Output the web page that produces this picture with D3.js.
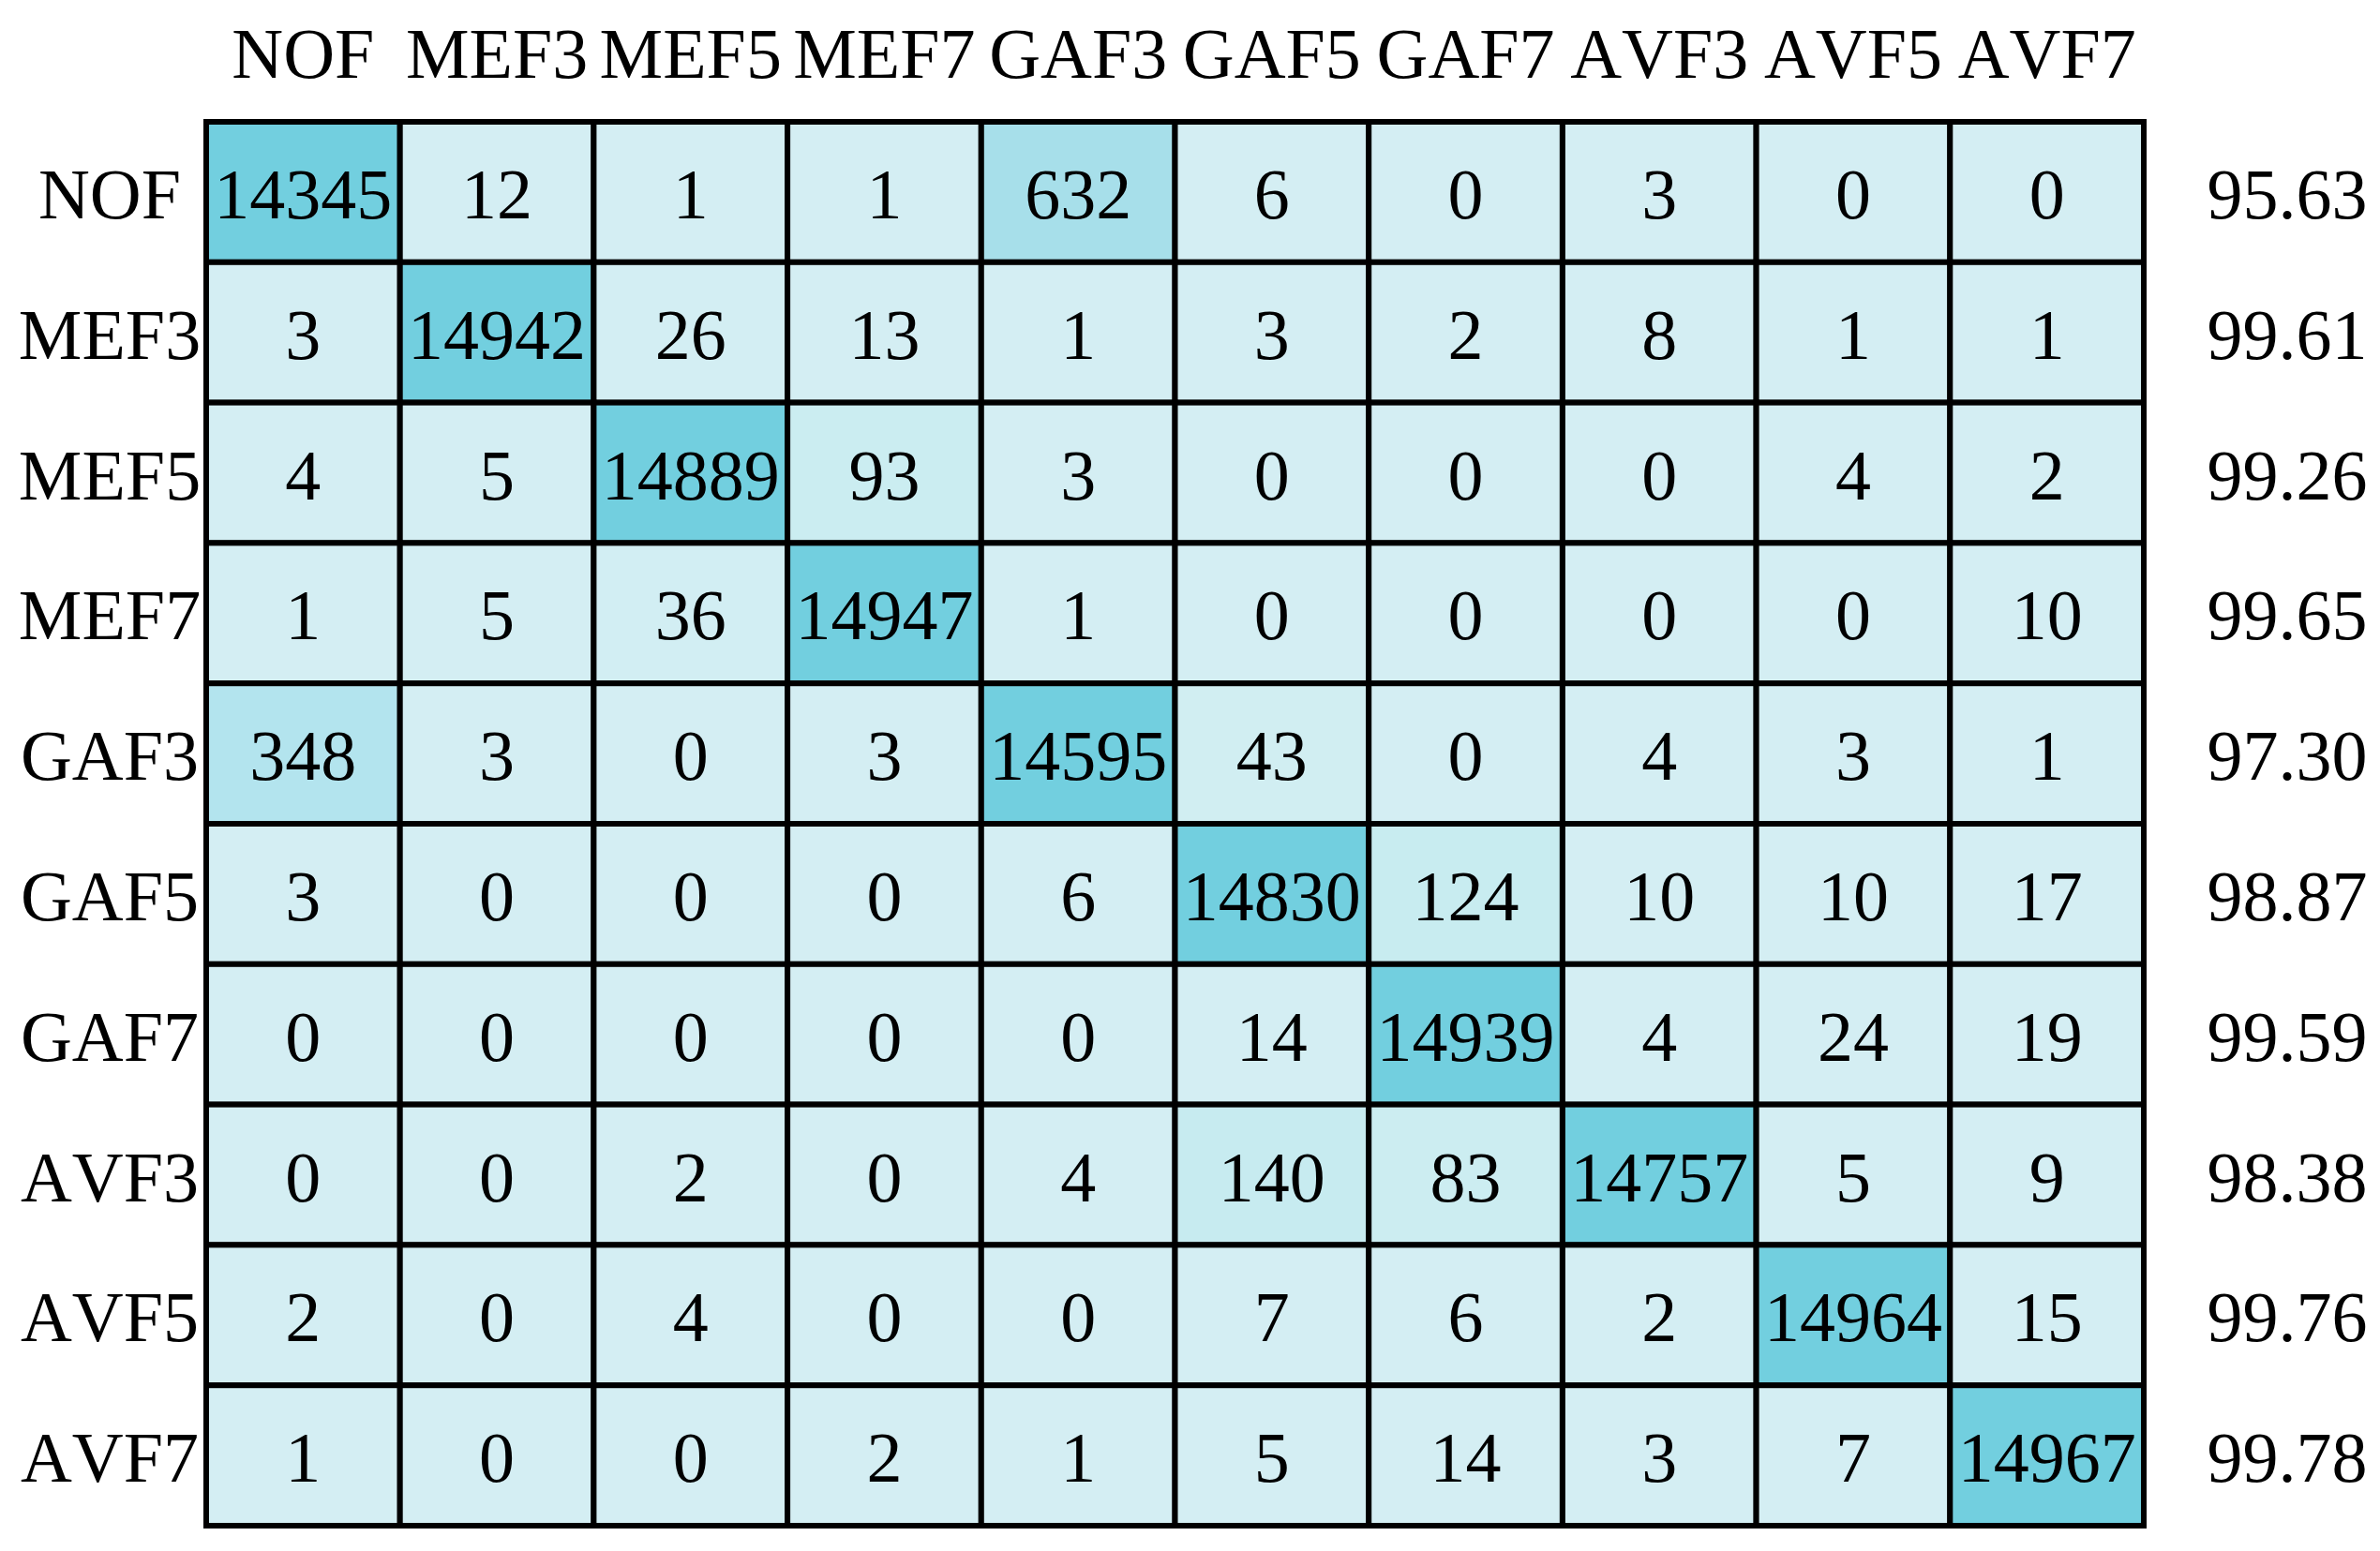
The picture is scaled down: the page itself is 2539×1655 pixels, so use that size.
<!DOCTYPE html>
<html>
<head>
<meta charset="utf-8">
<script src="https://cdn.jsdelivr.net/npm/d3@7"></script>
<style>
  html, body { margin: 0; padding: 0; background: #fff; }
  text { font-family: "Liberation Serif", "Times New Roman", serif; fill: #000; font-kerning: none; }
</style>
</head>
<body>
<div id="field"></div>
<script>
'use strict';

const classes = ['NOF', 'MEF3', 'MEF5', 'MEF7', 'GAF3', 'GAF5', 'GAF7', 'AVF3', 'AVF5', 'AVF7'];

// rows = true class, columns = predicted class
const rowNOF  = [14345, 12, 1, 1, 632, 6, 0, 3, 0, 0];
const rowMEF3 = [3, 14942, 26, 13, 1, 3, 2, 8, 1, 1];
const rowMEF5 = [4, 5, 14889, 93, 3, 0, 0, 0, 4, 2];
const rowMEF7 = [1, 5, 36, 14947, 1, 0, 0, 0, 0, 10];
const rowGAF3 = [348, 3, 0, 3, 14595, 43, 0, 4, 3, 1];
const rowGAF5 = [3, 0, 0, 0, 6, 14830, 124, 10, 10, 17];
const rowGAF7 = [0, 0, 0, 0, 0, 14, 14939, 4, 24, 19];
const rowAVF3 = [0, 0, 2, 0, 4, 140, 83, 14757, 5, 9];
const rowAVF5 = [2, 0, 4, 0, 0, 7, 6, 2, 14964, 15];
const rowAVF7 = [1, 0, 0, 2, 1, 5, 14, 3, 7, 14967];

const matrix = [rowNOF, rowMEF3, rowMEF5, rowMEF7, rowGAF3, rowGAF5, rowGAF7, rowAVF3, rowAVF5, rowAVF7];

function D3Matrix(setting) {
  let w = setting.w,
      h = setting.h,
      fs = 76,
      cells = [],
      X = d3.scaleBand().domain(classes).range([220, 2287]),
      Y = d3.scaleBand().domain(classes).range([130, 1628]),
      C = d3.scaleLinear()
            .domain([0, 20, 93, 140, 348, 632, 14345])
            .range(['#d4eef3', '#d4eef3', '#cbedf1', '#c7ebf0', '#b3e4ee', '#a7dfea', '#72cfdf'])
            .clamp(true),
      svg = d3.select('#field').append('svg').attr('width', w).attr('height', h);

  matrix.forEach(function(row, i) {
    row.forEach(function(v, j) { cells.push({ r: classes[i], c: classes[j], v: v }); });
  });

  // per-class accuracy (%) = diagonal / row total
  let acc = matrix.map(function(row, i) { return (row[i] / d3.sum(row) * 100).toFixed(2); });

  svg.selectAll('rect.cell').data(cells).enter().append('rect').attr('class', 'cell')
    .attr('x', function(d){ return X(d.c); }).attr('y', function(d){ return Y(d.r); })
    .attr('width', X.bandwidth()).attr('height', Y.bandwidth())
    .attr('fill', function(d){ return C(d.v); })
    .attr('stroke', '#000').attr('stroke-width', 6);

  svg.selectAll('text.val').data(cells).enter().append('text').attr('class', 'val')
    .attr('x', function(d){ return X(d.c) + X.bandwidth() / 2; })
    .attr('y', function(d){ return Y(d.r) + Y.bandwidth() / 2; })
    .attr('dy', '0.37em').attr('text-anchor', 'middle').attr('font-size', fs)
    .text(function(d){ return d.v; });

  svg.selectAll('text.col').data(classes).enter().append('text').attr('class', 'col')
    .attr('x', function(d){ return X(d) + X.bandwidth() / 2; }).attr('y', 83)
    .attr('text-anchor', 'middle').attr('font-size', fs)
    .text(function(d){ return d; });

  svg.selectAll('text.row').data(classes).enter().append('text').attr('class', 'row')
    .attr('x', 117).attr('y', function(d){ return Y(d) + Y.bandwidth() / 2; })
    .attr('dy', '0.37em').attr('text-anchor', 'middle').attr('font-size', fs)
    .text(function(d){ return d; });

  svg.selectAll('text.acc').data(acc).enter().append('text').attr('class', 'acc')
    .attr('x', 2440).attr('y', function(d, i){ return Y(classes[i]) + Y.bandwidth() / 2; })
    .attr('dy', '0.37em').attr('text-anchor', 'middle').attr('font-size', fs)
    .text(function(d){ return d; });
}

let d3Matrix = new D3Matrix({
  w: 2539,
  h: 1655
});
</script>
</body>
</html>
